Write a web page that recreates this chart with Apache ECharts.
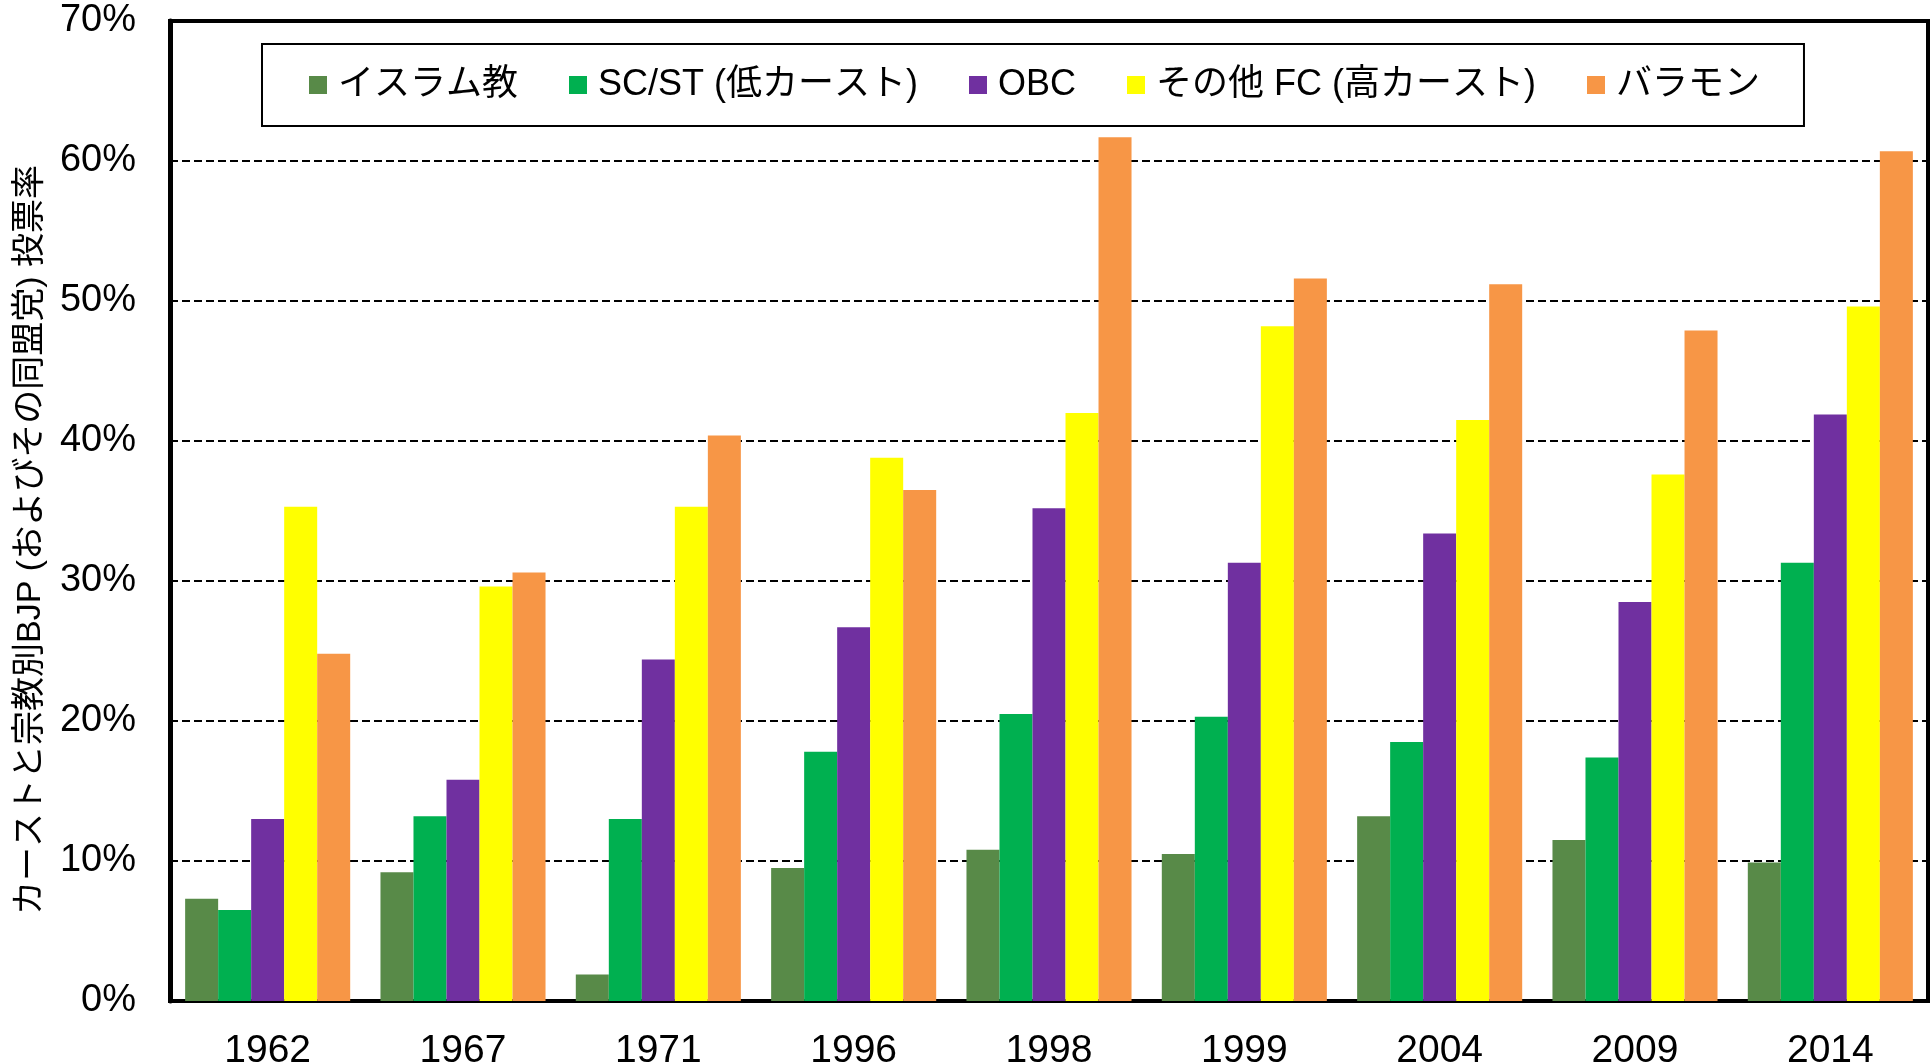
<!DOCTYPE html>
<html lang="ja">
<head>
    <meta charset="UTF-8">
    <title>BJP vote share by caste</title>
</head>
<style>
    html, body { margin: 0; padding: 0; background: #fff; }
    #main { width: 1932px; height: 1064px; }
</style>
<body>
<div id="main"></div>
</body>
<script src="https://cdn.jsdelivr.net/npm/echarts@6/dist/echarts.min.js"></script>
<script>
    // 年
    var years = ['1962', '1967', '1971', '1996', '1998', '1999', '2004', '2009', '2014'];
    var seriesNames = ['イスラム教', 'SC/ST (低カースト)', 'OBC', 'その他 FC (高カースト)', 'バラモン'];
    var yTicks = [0, 10, 20, 30, 40, 50, 60, 70];

    // 投票率 (%)
    var muslim   = [7.3, 9.2, 1.9, 9.5, 10.8, 10.5, 13.2, 11.5, 9.9];
    var scst     = [6.5, 13.2, 13.0, 17.8, 20.5, 20.3, 18.5, 17.4, 31.3];
    var obc      = [13.0, 15.8, 24.4, 26.7, 35.2, 31.3, 33.4, 28.5, 41.9];
    var otherFC  = [35.3, 29.6, 35.3, 38.8, 42.0, 48.2, 41.5, 37.6, 49.6];
    var brahmin  = [24.8, 30.6, 40.4, 36.5, 61.7, 51.6, 51.2, 47.9, 60.7];

    var colors = ['#588a48', '#00b050', '#7030a0', '#ffff00', '#f79646'];
    var values = [muslim, scst, obc, otherFC, brahmin];
    var font = "'Liberation Sans', Arial, 'Noto Sans CJK JP', sans-serif";

    var series = [];
    for (var i = 0; i < seriesNames.length; i++) {
        series.push({
            name: seriesNames[i],
            type: 'bar',
            data: values[i],
            barGap: '0%',
            barCategoryGap: '15.5%',
            itemStyle: { color: colors[i] }
        });
    }

    var myChart = echarts.init(document.getElementById('main'));
    var option = {
        animation: false,
        backgroundColor: '#fff',
        textStyle: { fontFamily: font, color: '#000' },
        grid: {
            left: 170, right: 4, top: 21, bottom: 63,
            outerBoundsMode: 'none',
            containLabel: false,
            show: true, borderColor: '#000', borderWidth: 4
        },
        legend: {
            data: seriesNames,
            left: 262, top: 44,
            padding: [23, 44, 23, 47],
            borderColor: '#000', borderWidth: 2,
            backgroundColor: '#fff',
            itemWidth: 18, itemHeight: 18, itemGap: 51,
            icon: 'rect',
            textStyle: { fontSize: 36, color: '#000', fontFamily: font, padding: [0, 0, 0, 6] }
        },
        xAxis: {
            type: 'category',
            data: years,
            axisLine: { lineStyle: { color: '#000', width: 2 } },
            axisTick: { show: false },
            axisLabel: { fontSize: 39, color: '#000', margin: 31, fontFamily: font }
        },
        yAxis: {
            type: 'value',
            min: yTicks[0], max: yTicks[yTicks.length - 1], interval: 10,
            name: 'カーストと宗教別BJP (およびその同盟党) 投票率',
            nameLocation: 'middle',
            nameGap: 122,
            nameRotate: 90,
            nameTextStyle: { fontSize: 34, color: '#000', fontFamily: font, padding: [0, 58, 0, 0] },
            axisLine: { show: true, lineStyle: { color: '#000', width: 5 } },
            axisTick: { show: false },
            axisLabel: { fontSize: 38, color: '#000', margin: 34, fontFamily: font, formatter: '{value}%' },
            splitLine: { lineStyle: { color: '#000', width: 2, type: [8, 4] } }
        },
        series: series
    };
    myChart.setOption(option);
</script>
</html>
